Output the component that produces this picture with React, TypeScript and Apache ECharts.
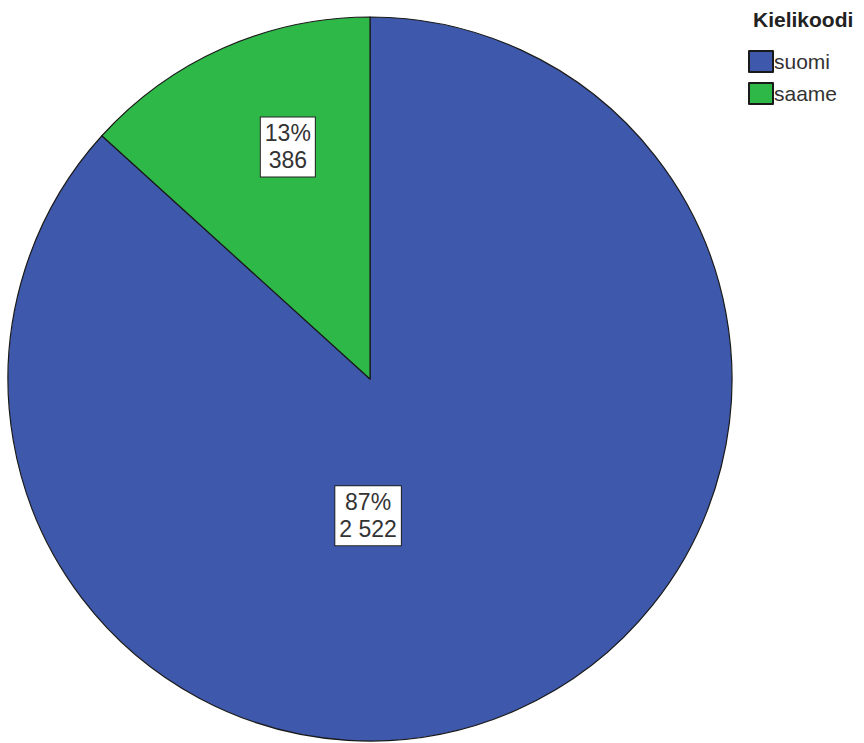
import React, { useEffect, useRef } from "react";
import * as echarts from "echarts";

const legendTitle = "Kielikoodi";
const categories = ["suomi", "saame"];
const values = [2522, 386];
const colors = ["#3E58AC", "#2EB848"];
// label placement: angle (deg, clockwise from 12 o'clock) and radius fraction
const labelAngles = [180.8, 340.5];
const labelRadii = [0.378, 0.68];

const CX = 370;
const CY = 379;
const R = 362;

const fmtNum = (v: number) => String(v).replace(/\B(?=(\d{3})+(?!\d))/g, " ");

export default function App() {
  const ref = useRef<HTMLDivElement>(null);
  useEffect(() => {
    if (!ref.current) return;
    const chart = echarts.init(ref.current, undefined, { renderer: "svg" });
    const font = "'Liberation Sans', Arial, sans-serif";
    chart.setOption({
      animation: false,
      backgroundColor: "#ffffff",
      title: {
        text: legendTitle,
        left: 753,
        top: 9,
        padding: 0,
        textStyle: { fontFamily: font, fontSize: 21, fontWeight: "bold", color: "#222" },
      },
      legend: {
        orient: "vertical",
        left: 748,
        top: 50,
        padding: 0,
        icon: "rect",
        itemWidth: 24,
        itemHeight: 21,
        itemGap: 9,
        textStyle: { fontFamily: font, fontSize: 21, color: "#333", padding: [0, 0, 0, -4] },
        data: categories,
      },
      series: [
        {
          type: "pie",
          center: [CX, CY],
          radius: R,
          startAngle: 90,
          clockwise: true,
          percentPrecision: 0,
          data: categories.map((name, i) => ({
            name,
            value: values[i],
            itemStyle: { color: colors[i] },
          })),
          itemStyle: { borderColor: "#1a1a1a", borderWidth: 1.2 },
          label: {
            show: true,
            position: "inside",
            formatter: (p: any) => `${Math.round(p.percent)}%\n${fmtNum(p.value)}`,
            fontFamily: font,
            fontSize: 23,
            lineHeight: 27,
            color: "#333",
            backgroundColor: "#ffffff",
            borderColor: "#222",
            borderWidth: 1,
            padding: [4, 4, 1, 4],
          },
          labelLine: { show: false },
          labelLayout: (params: any) => {
            const i = params.dataIndex;
            const a = (labelAngles[i] * Math.PI) / 180;
            return {
              x: CX + Math.sin(a) * R * labelRadii[i],
              y: CY - Math.cos(a) * R * labelRadii[i],
              align: "center",
              verticalAlign: "middle",
            };
          },
          emphasis: { disabled: true },
        },
      ],
    });
    return () => chart.dispose();
  }, []);
  return (
    <div
      ref={ref}
      style={{ position: "fixed", left: 0, top: 0, width: 864, height: 743 }}
    />
  );
}
